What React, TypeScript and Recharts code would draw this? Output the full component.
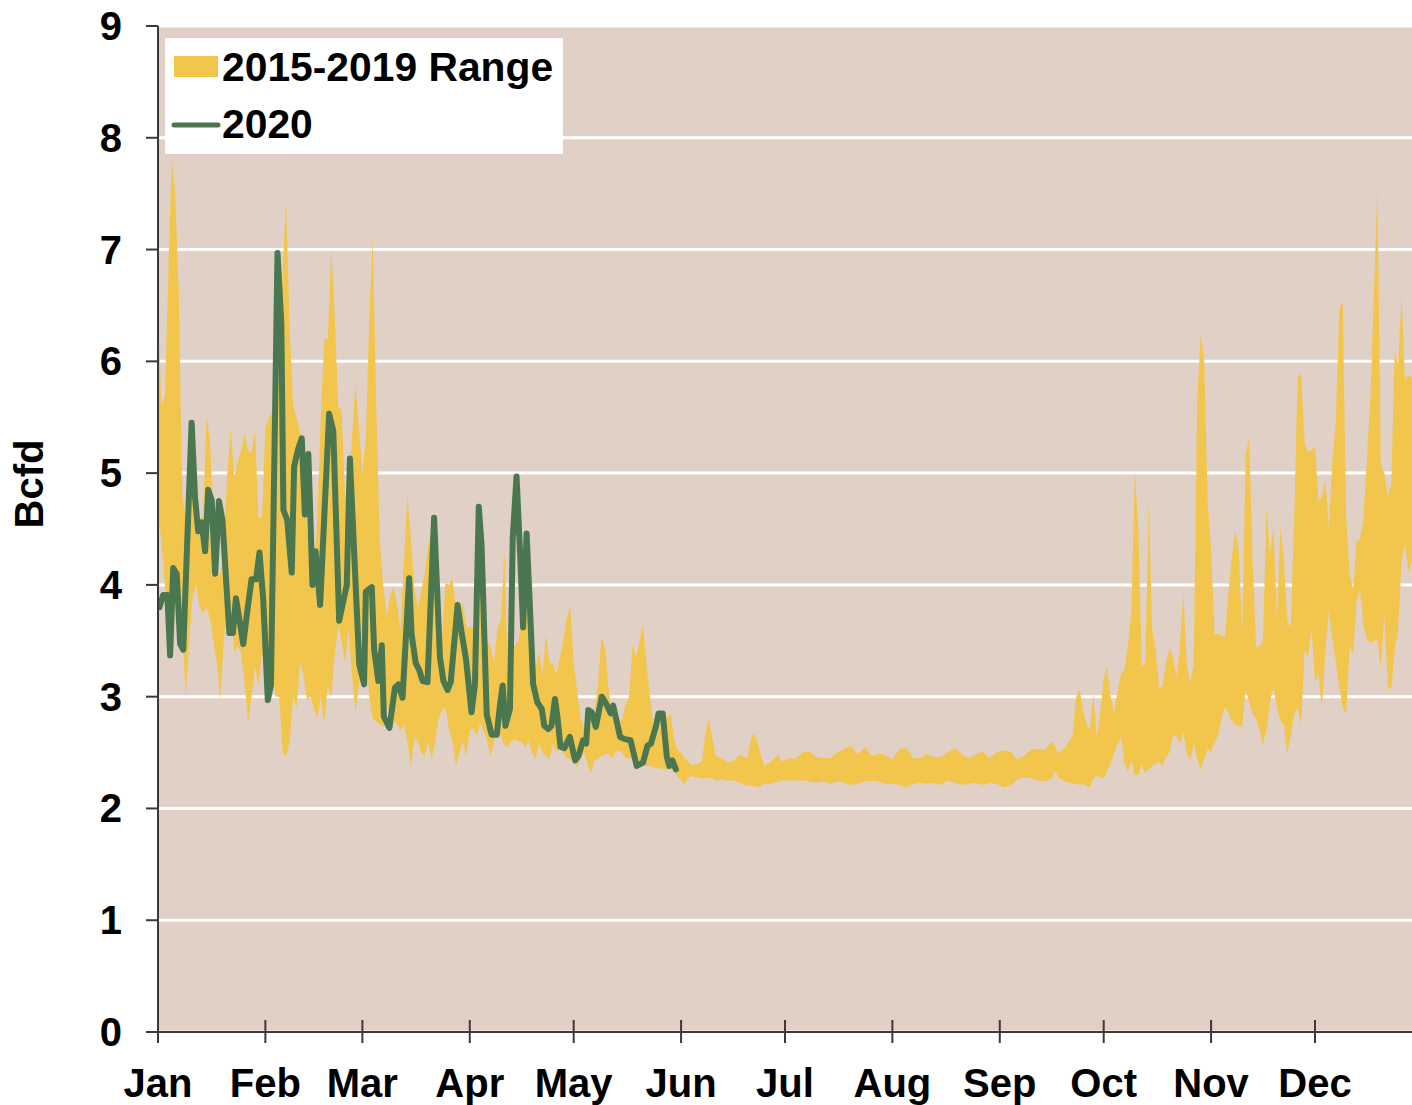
import React from "react";
import {
  ComposedChart,
  Area,
  Line,
  XAxis,
  YAxis,
  CartesianGrid,
} from "recharts";

// month ticks (day of year) and labels
const monthStarts = [0, 31, 59, 90, 120, 151, 181, 212, 243, 273, 304, 334];
const monthLabels = ["Jan", "Feb", "Mar", "Apr", "May", "Jun", "Jul", "Aug", "Sep", "Oct", "Nov", "Dec"];
const yTicks = [0, 1, 2, 3, 4, 5, 6, 7, 8, 9];

// 2015-2019 range: day of year, min and max (Bcfd)
const bandDays = [
  0, 1, 2, 3, 4, 5, 6, 7, 8, 9, 10, 11, 12, 13, 14, 15, 16, 17, 18, 19, 20, 21, 22, 23, 24, 25, 26, 27, 28, 29,
  30, 31, 32, 33, 34, 35, 36, 37, 38, 39, 40, 41, 42, 43, 44, 45, 46, 47, 48, 49, 50, 51, 52, 53, 54, 55, 56, 57, 58, 59,
  60, 61, 62, 63, 64, 65, 66, 67, 68, 69, 70, 71, 72, 73, 74, 75, 76, 77, 78, 79, 80, 81, 82, 83, 84, 85, 86, 87, 88, 89,
  90, 91, 92, 93, 94, 95, 96, 97, 98, 99, 100, 101, 102, 103, 104, 105, 106, 107, 108, 109, 110, 111, 112, 113, 114, 115, 116, 117, 118, 119,
  120, 121, 122, 123, 124, 125, 126, 127, 128, 129, 130, 131, 132, 133, 134, 135, 136, 137, 138, 139, 140, 141, 142, 143, 144, 145, 146, 147, 148, 149,
  150, 151, 152, 153, 154, 155, 156, 157, 158, 159, 160, 161,
  163, 164, 166, 168, 170, 171, 172, 173, 174, 175, 177, 179, 180,
  182, 184, 186, 188, 190, 192, 194, 196, 198, 200, 202, 204, 206, 208, 210, 212, 214, 216, 218, 220,
  222, 224, 226, 228, 230, 232, 234, 236, 238, 240, 242, 244, 246, 248, 250, 252, 254, 256,
  258, 259, 260, 262,
  264, 265, 266, 267, 268, 269, 270, 271, 272, 273, 274, 275, 276, 277, 278, 279, 280, 281, 282, 283, 284, 285, 286, 287, 288, 289, 290, 291, 292, 293,
  294, 295, 296, 297, 298, 299, 300, 301, 302, 303, 304, 305, 306, 307, 308, 309, 310, 311, 312, 313, 314, 315, 316, 317, 318, 319, 320, 321, 322, 323,
  324, 325, 326, 327, 328, 329, 330, 331, 332, 333, 334, 335, 336, 337, 338, 339, 340, 341, 342, 343, 344, 345, 346, 347, 348, 349, 350, 351, 352, 353,
  354, 355, 356, 357, 358, 359, 360, 361, 362,
];

const bandLow = [
  4.6, 4.4, 4.0, 3.6, 3.7, 3.9, 3.8, 3.6, 3.0, 3.5, 3.9, 4.0, 3.8, 3.75, 3.8, 3.7, 3.5, 3.3, 2.97, 3.5, 3.85, 3.8, 3.4, 3.45, 3.4, 3.12, 2.76, 3.0, 3.27, 3.1,
  3.4, 3.2, 3.1, 3.2, 3.0, 3.0, 2.5, 2.47, 2.6, 3.0, 2.9, 3.3, 3.2, 2.97, 3.0, 2.9, 2.8, 3.0, 2.76, 3.1, 3.0, 3.36, 3.64, 3.5, 3.3, 3.6, 3.2, 2.86, 3.1, 3.6,
  3.5, 3.0, 2.8, 2.78, 2.75, 2.73, 2.92, 2.85, 2.78, 2.76, 2.7, 2.75, 2.6, 2.38, 2.63, 2.6, 2.5, 2.47, 2.6, 2.44, 2.6, 2.8, 2.89, 2.9, 2.7, 2.6, 2.38, 2.5, 2.6, 2.47,
  2.7, 2.72, 2.65, 2.76, 2.7, 2.6, 2.47, 2.6, 2.7, 2.65, 2.57, 2.55, 2.6, 2.62, 2.6, 2.6, 2.55, 2.6, 2.5, 2.44, 2.58, 2.5, 2.47, 2.44, 2.58, 2.5, 2.55, 2.5, 2.45, 2.45,
  2.41, 2.37, 2.45, 2.5, 2.4, 2.31, 2.43, 2.45, 2.47, 2.49, 2.49, 2.45, 2.5, 2.52, 2.5, 2.45, 2.45, 2.45, 2.4, 2.4, 2.38, 2.38, 2.38, 2.37, 2.36, 2.36, 2.35, 2.35, 2.35, 2.34,
  2.28, 2.25, 2.21, 2.28, 2.29, 2.28, 2.28, 2.27, 2.27, 2.27, 2.27, 2.25,
  2.26, 2.25, 2.25, 2.23, 2.2, 2.21, 2.2, 2.19, 2.2, 2.22, 2.22, 2.24, 2.25,
  2.25, 2.25, 2.25, 2.24, 2.23, 2.24, 2.22, 2.24, 2.23, 2.21, 2.22, 2.24, 2.25, 2.24, 2.22, 2.22, 2.21, 2.19, 2.22, 2.23,
  2.22, 2.23, 2.21, 2.25, 2.23, 2.21, 2.22, 2.23, 2.21, 2.23, 2.22, 2.19, 2.2, 2.26, 2.28, 2.27, 2.25, 2.24,
  2.27, 2.34, 2.27, 2.24,
  2.22, 2.22, 2.21, 2.22, 2.2, 2.19, 2.26, 2.3, 2.28, 2.27, 2.34, 2.4, 2.49, 2.58, 2.64, 2.4, 2.33, 2.43, 2.3, 2.3, 2.4, 2.31, 2.35, 2.38, 2.4, 2.42, 2.38, 2.47, 2.5, 2.65,
  2.65, 2.58, 2.68, 2.5, 2.43, 2.58, 2.45, 2.34, 2.45, 2.53, 2.5, 2.6, 2.65, 2.8, 2.91, 2.85, 2.79, 2.75, 2.73, 2.75, 3.07, 2.95, 2.85, 2.8, 2.7, 2.58, 2.7, 2.95, 3.09, 2.9,
  2.79, 2.75, 2.49, 2.65, 2.85, 2.9, 2.75, 3.42, 3.35, 3.61, 3.14, 3.19, 2.9, 3.42, 3.77, 3.51, 3.32, 3.1, 2.9, 2.85, 3.45, 3.38, 3.86, 3.96, 3.64, 3.51, 3.48, 3.5, 3.51, 3.26,
  3.74, 3.1, 3.06, 3.42, 3.61, 4.22, 4.38, 4.12, 4.22,
];

const bandHigh = [
  6.5, 5.6, 5.7, 6.8, 7.8, 7.5, 6.6, 4.8, 4.6, 5.0, 5.1, 4.7, 4.6, 4.6, 5.5, 5.3, 4.6, 4.1, 4.1, 4.3, 5.0, 5.4, 4.97, 5.1, 5.2, 5.35, 5.2, 5.18, 5.39, 4.6,
  4.6, 5.4, 5.5, 5.55, 5.3, 6.0, 6.8, 7.44, 6.3, 5.6, 5.5, 5.35, 5.3, 4.5, 4.2, 4.0, 4.6, 5.5, 6.2, 6.2, 7.0, 6.4, 5.6, 5.56, 4.8, 4.7, 5.3, 5.8, 5.4, 5.0,
  5.3, 6.4, 7.1, 5.6, 4.4, 4.0, 3.72, 3.9, 3.98, 3.82, 3.6, 4.2, 4.81, 4.42, 3.98, 3.78, 3.95, 4.1, 4.36, 4.5, 4.3, 3.37, 3.5, 4.02, 4.0, 4.06, 3.8, 3.6, 3.85, 3.62,
  3.62, 3.62, 3.9, 4.0, 3.34, 3.5, 3.45, 3.3, 3.6, 3.7, 4.3, 3.2, 3.5, 3.45, 3.5, 3.66, 3.85, 3.66, 3.5, 3.27, 3.4, 3.2, 3.56, 3.3, 3.3, 3.2, 3.35, 3.5, 3.7, 3.81,
  3.3, 3.05, 2.8, 2.72, 2.75, 2.8, 2.85, 3.1, 3.53, 3.44, 3.1, 2.85, 2.73, 2.76, 2.8, 2.93, 3.0, 3.46, 3.35, 3.5, 3.65, 3.3, 3.0, 2.75, 2.64, 2.75, 2.8, 2.81, 2.85, 2.62,
  2.52, 2.5, 2.45, 2.42, 2.39, 2.39, 2.4, 2.42, 2.66, 2.81, 2.63, 2.47,
  2.45, 2.41, 2.42, 2.48, 2.45, 2.6, 2.68, 2.6, 2.48, 2.38, 2.42, 2.48, 2.42,
  2.45, 2.44, 2.5, 2.51, 2.46, 2.45, 2.45, 2.5, 2.53, 2.56, 2.48, 2.55, 2.47, 2.49, 2.48, 2.44, 2.53, 2.54, 2.45, 2.45,
  2.49, 2.46, 2.46, 2.5, 2.54, 2.49, 2.45, 2.48, 2.51, 2.45, 2.5, 2.52, 2.51, 2.44, 2.47, 2.53, 2.53, 2.52,
  2.6, 2.55, 2.49, 2.55,
  2.65, 2.99, 3.07, 2.88, 2.75, 2.71, 3.02, 2.64, 2.85, 3.16, 3.27, 3.0, 2.85, 3.05, 3.2, 3.25, 3.45, 3.77, 5.01, 4.5, 3.27, 3.3, 4.73, 3.6, 3.41, 3.07, 3.1, 3.31, 3.43, 3.35,
  3.18, 3.45, 3.92, 3.3, 3.12, 3.3, 5.65, 6.25, 6.0, 4.76, 4.31, 3.56, 3.56, 3.55, 3.53, 3.92, 4.25, 4.49, 4.31, 3.56, 5.17, 5.32, 4.2, 3.44, 3.45, 3.5, 4.7, 4.28, 4.52, 3.7,
  4.52, 4.22, 3.68, 3.62, 4.6, 5.87, 5.88, 5.27, 5.19, 5.2, 5.24, 4.75, 4.79, 4.94, 4.5, 5.11, 5.46, 6.46, 6.54, 4.6, 4.1, 3.96, 4.38, 4.42, 4.6, 5.14, 5.66, 6.6, 7.55, 5.08,
  5.0, 4.79, 4.89, 6.07, 5.98, 6.58, 5.82, 5.88, 5.85,
];

// 2020 daily values (Jan - May)
const days2020 = [
  0.4, 1.5, 2.7, 3.5, 4.4, 5.4, 6.4, 7.3, 9.7, 10.7, 11.6, 12.6, 13.6, 14.5, 15.5, 16.5, 17.6, 18.6, 20.6, 21.6,
  22.5, 23.7, 24.6, 25.8, 27.0, 28.3, 29.3, 30.4, 31.7, 32.6, 34.5, 35.6, 36.2, 37.3, 38.6, 39.3, 40.5, 41.5, 42.4, 43.4,
  44.6, 45.5, 46.8, 49.4, 50.6, 52.3, 54.5, 55.4, 58.1, 59.5, 60.0, 61.7, 62.4, 63.6, 64.6, 65.2, 66.8, 68.4, 69.4, 70.6,
  72.5, 73.2, 74.4, 75.4, 76.4, 77.8, 79.7, 81.4, 82.4, 83.6, 84.5, 86.5, 87.7, 88.9, 90.5, 91.5, 92.6, 93.4, 94.9, 96.3,
  97.8, 98.7, 99.5, 100.3, 101.6, 102.4, 103.5, 104.5, 105.4, 106.4, 107.4, 108.3, 109.5, 110.8, 111.5, 112.7, 113.6, 114.6, 115.3, 116.2,
  117.3, 118.9, 120.4, 121.4, 122.7, 123.6, 124.2, 125.2, 126.4, 128.1, 129.3, 130.7, 131.4, 133.4, 134.8, 136.4, 138.2, 140.0, 141.3, 142.3,
  143.8, 144.5, 145.7, 146.9, 147.6, 148.5, 149.5,
];
const values2020 = [
  3.8, 3.91, 3.91, 3.37, 4.15, 4.1, 3.47, 3.42, 5.45, 4.78, 4.48, 4.56, 4.3, 4.85, 4.76, 4.1, 4.75, 4.58, 3.57, 3.57,
  3.88, 3.65, 3.47, 3.77, 4.05, 4.05, 4.29, 3.86, 2.97, 3.1, 6.97, 6.34, 4.67, 4.58, 4.11, 5.06, 5.22, 5.31, 4.63, 5.17,
  4.0, 4.3, 3.82, 5.53, 5.38, 3.68, 4.0, 5.13, 3.29, 3.11, 3.94, 3.98, 3.42, 3.14, 3.46, 2.82, 2.72, 3.08, 3.11, 2.99,
  4.06, 3.56, 3.3, 3.24, 3.14, 3.13, 4.6, 3.35, 3.14, 3.06, 3.13, 3.82, 3.56, 3.34, 2.86, 3.11, 4.7, 4.36, 2.84, 2.66,
  2.66, 2.92, 3.1, 2.74, 2.89, 4.42, 4.97, 4.3, 3.62, 4.46, 3.78, 3.11, 2.95, 2.89, 2.74, 2.71, 2.74, 2.98, 2.82, 2.55,
  2.54, 2.64, 2.43, 2.47, 2.61, 2.58, 2.88, 2.86, 2.73, 3.0, 2.94, 2.85, 2.92, 2.64, 2.62, 2.61, 2.38, 2.41, 2.56, 2.58,
  2.74, 2.85, 2.85, 2.46, 2.38, 2.43, 2.35,
];

const FONT = "'Liberation Sans', Arial, sans-serif";
const BG = "#e0d0c5";
const YELLOW = "#f2c64c";
const GREEN = "#4a7650";
const AXIS = "#3a3a3a";

const bandData = bandDays.map((d, i) => ({ day: d, range: [bandLow[i], bandHigh[i]] }));
const lineData = days2020.map((d, i) => ({ day: d, value: values2020[i] }));

const MonthTick = (props: any) => {
  const { x, y, payload } = props;
  const idx = monthStarts.indexOf(payload.value);
  return (
    <g>
      <line x1={x} x2={x} y1={y - 12} y2={y + 11} stroke={AXIS} strokeWidth={2} />
      <text x={x} y={y + 65} textAnchor="middle" fontFamily={FONT} fontWeight={700} fontSize={40} fill="#000">
        {monthLabels[idx]}
      </text>
    </g>
  );
};

const ValueTick = (props: any) => {
  const { x, y, payload } = props;
  return (
    <text x={x} y={y + 14} textAnchor="end" fontFamily={FONT} fontWeight={700} fontSize={40} fill="#000">
      {payload.value}
    </text>
  );
};

// legend drawn as an overlay box in the top-left of the plot
const LegendBox = () => (
  <svg
    width={398}
    height={116}
    style={{ position: "absolute", left: 165, top: 38, display: "block" }}
  >
    <rect x={0} y={0} width={398} height={116} fill="#fff" />
    <rect x={9} y={18} width={44} height={21} fill={YELLOW} />
    <text x={57} y={43} fontFamily={FONT} fontWeight={700} fontSize={40.8} fill="#000">
      2015-2019 Range
    </text>
    <line x1={9} x2={53} y1={87} y2={87} stroke={GREEN} strokeWidth={5} strokeLinecap="round" />
    <text x={57} y={100} fontFamily={FONT} fontWeight={700} fontSize={40.8} fill="#000">
      2020
    </text>
  </svg>
);

const App = () => {
  return (
    <div style={{ position: "absolute", left: 0, top: 0, width: 1412, height: 1105, background: "#fff" }}>
      <ComposedChart width={1412} height={1105} margin={{ top: 26, right: 0, left: 0, bottom: 0 }}>
        <CartesianGrid vertical={false} fill={BG} stroke="#ffffff" strokeWidth={3} />
        <XAxis
          dataKey="day"
          type="number"
          domain={[0, 362]}
          allowDataOverflow
          ticks={monthStarts}
          interval={0}
          height={73}
          tickLine={false}
          tickSize={0}
          tickMargin={0}
          tick={<MonthTick />}
          axisLine={{ stroke: AXIS, strokeWidth: 2 }}
        />
        <YAxis
          type="number"
          domain={[0, 9]}
          ticks={yTicks}
          interval={0}
          width={158}
          tickSize={12}
          tickMargin={24}
          tickLine={{ stroke: AXIS, strokeWidth: 2 }}
          axisLine={{ stroke: AXIS, strokeWidth: 2 }}
          tick={<ValueTick />}
          label={{
            content: () => (
              <text
                x={43}
                y={484}
                transform="rotate(-90 43 484)"
                textAnchor="middle"
                fontFamily={FONT}
                fontWeight={700}
                fontSize={40}
                fill="#000"
              >
                Bcfd
              </text>
            ),
          }}
        />
        <Area
          data={bandData}
          dataKey="range"
          type="linear"
          stroke="none"
          fill={YELLOW}
          fillOpacity={1}
          isAnimationActive={false}
        />
        <Line
          data={lineData}
          dataKey="value"
          type="linear"
          stroke={GREEN}
          strokeWidth={6}
          strokeLinejoin="round"
          strokeLinecap="round"
          dot={false}
          activeDot={false}
          isAnimationActive={false}
        />
      </ComposedChart>
      <LegendBox />
    </div>
  );
};

export default App;
